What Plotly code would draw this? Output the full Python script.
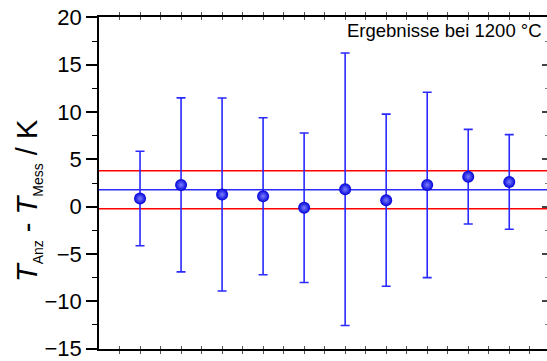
import plotly.graph_objects as go

# Messreihe: Abweichung Anzeige - Messung bei 1200 °C
runs = [1, 2, 3, 4, 5, 6, 7, 8, 9, 10]
delta_t = [0.86, 2.30, 1.28, 1.10, -0.12, 1.84, 0.68, 2.30, 3.17, 2.61]
delta_err = [5.0, 9.2, 10.2, 8.3, 7.9, 14.4, 9.1, 9.8, 5.0, 5.0]

mean_line = 1.78
band_upper = 3.79
band_lower = -0.22

y_min, y_max = -15.05, 20.05
y_tick_step = 5
x_range = [0, 10.92]

FONT = "Liberation Sans, Arial, sans-serif"
BLUE = "#2a2aff"

fig = go.Figure()

fig.add_trace(go.Scatter(
    x=runs, y=delta_t, mode="markers",
    error_y=dict(type="data", array=delta_err, visible=True,
                 color=BLUE, thickness=1.6, width=4.5),
    marker=dict(size=12, color="#0000d8",
                gradient=dict(type="radial", color="#7c80ff"),
                line=dict(width=0)),
    showlegend=False, hoverinfo="skip",
))

# invisible trace carrying the right-hand tick axis
fig.add_trace(go.Scatter(x=[runs[0]], y=[delta_t[0]], yaxis="y2",
                         mode="markers", marker=dict(opacity=0),
                         showlegend=False, hoverinfo="skip"))

fig.add_hline(y=band_upper, line=dict(color="#ff0000", width=1.6), layer="below")
fig.add_hline(y=band_lower, line=dict(color="#ff0000", width=1.6), layer="below")
fig.add_hline(y=mean_line, line=dict(color=BLUE, width=1.6), layer="below")

SUB = "<sub><span style='font-size:14px'>{}</span></sub>"
y_title = ("<i>T</i>" + SUB.format("Anz") + " - <i>T</i>" + SUB.format("Mess") + " / K")

fig.update_layout(
    width=547, height=361,
    margin=dict(l=98.5, r=0, t=17.2, b=9.5),
    paper_bgcolor="white", plot_bgcolor="white",
    font=dict(family=FONT, color="black"),
    xaxis=dict(range=x_range, showgrid=False, zeroline=False,
               showline=True, linecolor="black", linewidth=1.5,
               mirror="allticks", ticks="inside", ticklen=3, tickwidth=1,
               tickcolor="#555", dtick=0.5, tick0=0, showticklabels=False),
    yaxis=dict(range=[y_min, y_max], showgrid=False, zeroline=False,
               showline=True, linecolor="black", linewidth=1.5,
               ticks="outside", ticklen=11, tickwidth=1.5, tickcolor="black",
               tickmode="linear", tick0=0, dtick=y_tick_step,
               ticklabeloverflow="allow",
               tickfont=dict(size=22, family=FONT, color="black"),
               minor=dict(dtick=y_tick_step / 2, tick0=0, ticks="outside",
                          ticklen=5, tickwidth=1, tickcolor="black")),
    # right-hand tick marks only: no labels, no line
    yaxis2=dict(range=[y_min, y_max], overlaying="y", side="right",
                showgrid=False, zeroline=False, showline=False,
                ticks="inside", ticklen=5, tickwidth=1.5, tickcolor="#444",
                tickmode="linear", tick0=0, dtick=y_tick_step,
                showticklabels=False,
                minor=dict(dtick=y_tick_step / 2, tick0=0, ticks="inside",
                           ticklen=2, tickwidth=1, tickcolor="#777")),
    annotations=[
        dict(text=y_title,
             xref="paper", yref="paper", x=-0.159, y=0.448,
             xanchor="center", yanchor="middle", textangle=-90,
             showarrow=False, font=dict(size=29, family=FONT, color="black")),
        dict(text="Ergebnisse bei 1200 °C",
             xref="paper", yref="paper", x=0.993, y=0.996,
             xanchor="right", yanchor="top", showarrow=False,
             font=dict(size=18.5, family=FONT, color="black")),
    ],
)

fig.write_html("out.html")
